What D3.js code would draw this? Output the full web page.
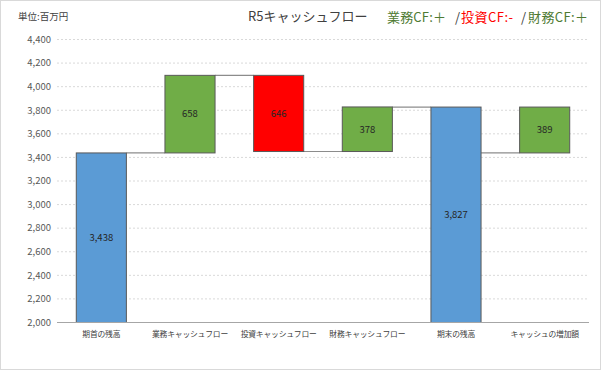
<!DOCTYPE html>
<html>
<head>
<meta charset="utf-8">
<script src="https://cdn.jsdelivr.net/npm/d3@7"></script>
<style>
  body { margin: 0; background: #fff; }
  svg { font-family: "Noto Sans CJK JP", "Noto Sans", sans-serif; }
</style>
</head>
<body>
<svg id="chart" width="601" height="370"></svg>
<script>
// data
var categories = ["期首の残高", "業務キャッシュフロー", "投資キャッシュフロー", "財務キャッシュフロー", "期末の残高", "キャッシュの増加額"];
var values = [3438, 658, -646, 378, 3827, 389];
var kinds = ["total", "up", "down", "up", "total", "change"];
var yTicks = [2000, 2200, 2400, 2600, 2800, 3000, 3200, 3400, 3600, 3800, 4000, 4200, 4400];
var legendParts = ["業務CF:＋", "/", "投資CF:-", "/", "財務CF:＋"];
var legendColors = ["#4e7a32", "#404040", "#ff0000", "#404040", "#4e7a32"];

var margin = {top: 39.5, left: 57, right: 12, bottom: 47.5},
    width = 601 - margin.left - margin.right,
    height = 370 - margin.top - margin.bottom;

var svg = d3.select("#chart");

// outer frame
svg.append("rect")
    .attr("x", 0.5).attr("y", 0.5)
    .attr("width", 600).attr("height", 369)
    .attr("fill", "#fff")
    .attr("stroke", "#d9d9d9");

var g = svg.append("g")
    .attr("transform", "translate(" + margin.left + "," + margin.top + ")");

// compute low / high for each bar
var start = values[0];
var running = 0;
var bars = categories.map(function(c, i) {
    var v = values[i], lo, hi;
    if (kinds[i] == "total") { lo = 2000; hi = v; running = v; }
    else if (kinds[i] == "change") { lo = start; hi = start + v; }
    else { lo = Math.min(running, running + v); hi = Math.max(running, running + v); running += v; }
    return {cat: c, value: v, kind: kinds[i], lo: lo, hi: hi};
});

var x = d3.scaleBand()
    .domain(categories)
    .range([0, width]);

var y = d3.scaleLinear()
    .domain([2000, 4400])
    .range([height, 0]);

var barW = x.bandwidth() * 0.565;

var color = {total: "#5b9bd5", up: "#70ad47", down: "#ff0000", change: "#70ad47"};

// gridlines
g.selectAll(".grid")
    .data(yTicks.slice(1))
    .enter()
    .append("line")
    .attr("x1", 0).attr("x2", width)
    .attr("y1", d => y(d)).attr("y2", d => y(d))
    .attr("stroke", "#d9d9d9")
    .attr("stroke-dasharray", "2,2")
    .attr("stroke-width", 1);

// y tick labels
g.selectAll(".ylab")
    .data(yTicks)
    .enter()
    .append("text")
    .attr("x", -6)
    .attr("y", d => y(d))
    .attr("dy", "0.35em")
    .attr("text-anchor", "end")
    .attr("font-size", 9.5)
    .attr("fill", "#595959")
    .text(d => d3.format(",")(d));

// connectors
g.selectAll(".conn")
    .data(bars.slice(1))
    .enter()
    .append("line")
    .attr("x1", (d, i) => x(categories[i]) + x.bandwidth() / 2 + barW / 2)
    .attr("x2", d => x(d.cat) + x.bandwidth() / 2 - barW / 2)
    .attr("y1", d => y(d.kind == "down" || d.kind == "total" ? d.hi : d.lo))
    .attr("y2", d => y(d.kind == "down" || d.kind == "total" ? d.hi : d.lo))
    .attr("stroke", "#8c8c8c")
    .attr("stroke-width", 1.2);

// bars
g.selectAll(".bar")
    .data(bars)
    .enter()
    .append("rect")
    .attr("x", d => x(d.cat) + x.bandwidth() / 2 - barW / 2)
    .attr("y", d => y(d.hi))
    .attr("width", barW)
    .attr("height", d => y(d.lo) - y(d.hi))
    .attr("fill", d => color[d.kind])
    .attr("stroke", "#595959")
    .attr("stroke-width", 1);

// bar labels
g.selectAll(".blab")
    .data(bars)
    .enter()
    .append("text")
    .attr("x", d => x(d.cat) + x.bandwidth() / 2)
    .attr("y", d => (y(d.lo) + y(d.hi)) / 2)
    .attr("dy", "0.35em")
    .attr("text-anchor", "middle")
    .attr("font-size", 9.5)
    .attr("fill", "#262626")
    .text(d => d3.format(",")(Math.abs(d.value)));

// x axis line
g.append("line")
    .attr("x1", 0).attr("x2", width)
    .attr("y1", height).attr("y2", height)
    .attr("stroke", "#a6a6a6")
    .attr("stroke-width", 1.2);

// category labels
g.selectAll(".xlab")
    .data(categories)
    .enter()
    .append("text")
    .attr("x", d => x(d) + x.bandwidth() / 2)
    .attr("y", height + 14)
    .attr("text-anchor", "middle")
    .attr("font-size", 7.8)
    .attr("letter-spacing", -0.2)
    .attr("fill", "#404040")
    .text(d => d);

// titles
svg.append("text")
    .attr("x", 18).attr("y", 20)
    .attr("font-size", 9.5)
    .attr("fill", "#404040")
    .text("単位:百万円");

svg.append("text")
    .attr("x", 248).attr("y", 21)
    .attr("font-size", 13)
    .attr("fill", "#404040")
    .text("R5キャッシュフロー");

var legendX = [387, 455, 461, 521, 528];
var legendW = [59, 0, 52, 0, 60];
svg.selectAll(".leg")
    .data(legendParts)
    .enter()
    .append("text")
    .attr("x", (d, i) => legendX[i])
    .attr("y", 22)
    .attr("font-size", 13)
    .attr("fill", (d, i) => legendColors[i])
    .each(function(d, i) {
        if (legendW[i] > 0) d3.select(this).attr("textLength", legendW[i]).attr("lengthAdjust", "spacing");
    })
    .text(d => d);
</script>
</body>
</html>
